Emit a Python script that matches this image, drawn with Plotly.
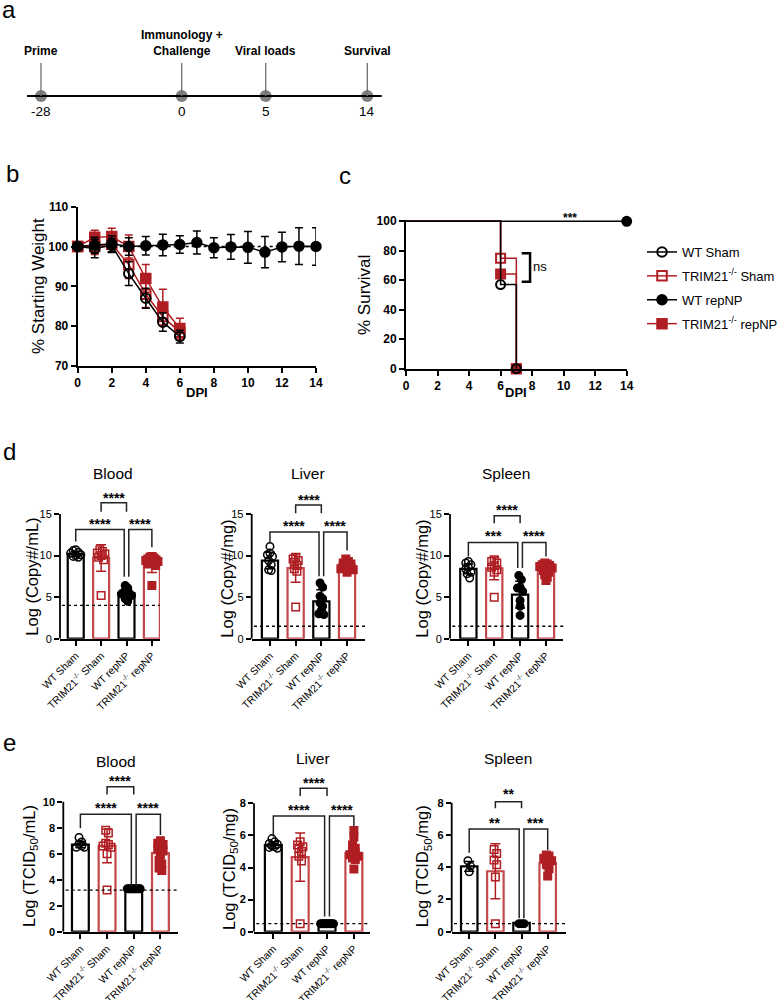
import plotly.graph_objects as go

W, H = 780, 1000
FONT = "Liberation Sans, Arial, Helvetica, sans-serif"
BLACK = "#000000"
RED = "#AF1E22"
RED_BAR = "#C4474A"
GREY = "#808080"

# ---------------- data ----------------
# panel a: study timeline
timeline_days = ["-28", "0", "5", "14"]
timeline_events = ["Prime", "Immunology +<br>Challenge", "Viral loads", "Survival"]

# groups
group_names = ["WT Sham", "TRIM21<sup>-/-</sup> Sham", "WT repNP", "TRIM21<sup>-/-</sup> repNP"]

# panel b: % starting weight (mean, SD) by day post infection
wt_sham_days = [0, 1, 2, 3, 4, 5, 6]
wt_sham_w = [100, 99.5, 100.3, 93.2, 87.0, 81.0, 77.4]
wt_sham_sd = [0, 2.3, 1.8, 3.0, 2.5, 2.3, 1.6]
trim_sham_days = [0, 1, 2, 3, 4, 5, 6]
trim_sham_w = [100, 100.0, 100.6, 95.5, 88.0, 82.4, 78.5]
trim_sham_sd = [0, 2.0, 2.0, 3.5, 3.3, 2.3, 2.0]
wt_rep_days = list(range(15))
wt_rep_w = [100, 100.3, 100.7, 100.0, 100.2, 100.4, 100.5, 101.0, 99.7, 99.9, 99.8, 98.6, 99.9, 100.1, 100.0]
wt_rep_sd = [0, 2.0, 2.0, 2.2, 2.3, 2.7, 2.2, 2.9, 2.5, 3.1, 4.0, 3.9, 3.7, 4.6, 4.7]
trim_rep_days = [0, 1, 2, 3, 4, 5, 6]
trim_rep_w = [100, 102.3, 102.5, 100.0, 92.0, 84.8, 79.4]
trim_rep_sd = [0, 1.8, 2.1, 2.9, 3.5, 4.5, 2.6]
weight_ref = 100

# panel c: Kaplan-Meier survival (%)
surv_wt_sham_t = [0, 6, 7]
surv_wt_sham = [100, 57.1, 0]
surv_trim_sham_t = [0, 6, 7]
surv_trim_sham = [100, 75.0, 0]
surv_wt_rep_t = [0, 14]
surv_wt_rep = [100, 100]
surv_trim_rep_t = [0, 6, 7]
surv_trim_rep = [100, 64.3, 0]
surv_sig_text = "***"
surv_ns_text = "ns"

# panel d: viral RNA, log copy number
d_blood_pts = [[10.7, 10.6, 10.4, 10.3, 10.1, 10.0, 9.9, 9.8],
               [10.7, 10.5, 10.3, 10.2, 10.0, 9.8, 9.5, 5.2],
               [6.4, 6.1, 5.8, 5.6, 5.5, 5.4, 5.2, 4.8, 4.5],
               [9.9, 9.8, 9.7, 9.6, 9.5, 9.4, 9.3, 9.2, 9.1, 9.0, 8.8, 6.4]]
d_blood_mean = [10.2, 9.7, 5.5, 9.1]
d_blood_err = [0.3, 1.6, 0.5, 1.15]
d_blood_lod = 4.0
d_blood_sig = [(1, 2, 16.36, 15.28, 15.28, "****", 17.3),
               (0, 2, 13.15, 11.7, 7.45, "****", 14.15),
               (2, 3, 13.15, 7.45, 11.0, "****", 14.15)]

d_liver_pts = [[11.1, 10.3, 10.1, 9.9, 9.4, 8.9, 8.3, 8.2],
               [9.8, 9.6, 9.4, 9.2, 8.8, 8.4, 8.1, 3.8],
               [6.7, 6.2, 5.1, 4.8, 4.3, 3.9, 3.4, 2.9, 3.0],
               [9.6, 9.3, 9.1, 9.0, 8.9, 8.8, 8.7, 8.6, 8.5, 8.4, 8.3, 8.0]]
d_liver_mean = [9.4, 8.5, 4.5, 8.7]
d_liver_err = [1.0, 1.7, 1.4, 0.4]
d_liver_lod = 1.5
d_liver_sig = [(1, 2, 16.08, 15.1, 15.1, "****", 17.1),
               (0, 2, 12.83, 11.47, 7.5, "****", 13.95),
               (2, 3, 12.83, 7.5, 10.6, "****", 13.95)]

d_spleen_pts = [[9.3, 9.1, 8.9, 8.6, 8.4, 8.0, 7.8, 7.3],
                [9.5, 9.3, 9.1, 8.8, 8.6, 8.3, 8.0, 5.0],
                [7.6, 7.1, 6.2, 6.1, 5.7, 4.6, 3.9, 2.8],
                [9.1, 9.0, 8.9, 8.8, 8.7, 8.5, 8.3, 8.2, 8.0, 7.7, 7.4, 7.0]]
d_spleen_mean = [8.4, 8.45, 5.3, 8.3]
d_spleen_err = [0.6, 1.35, 1.6, 0.6]
d_spleen_lod = 1.5
d_spleen_sig = [(1, 2, 14.8, 13.9, 13.9, "****", 15.9),
                (0, 2, 11.56, 9.9, 8.5, "***", 12.7),
                (2, 3, 11.56, 8.5, 9.9, "****", 12.7)]

# panel e: infectious virus, log TCID50
e_blood_pts = [[7.25, 6.9, 6.75, 6.6, 6.5, 6.5],
               [7.8, 7.6, 6.8, 6.7, 6.6, 6.5, 6.0, 3.2],
               [3.3, 3.3, 3.3, 3.3, 3.3, 3.3, 3.3, 3.3, 3.3, 3.3],
               [7.0, 6.8, 6.7, 6.6, 6.4, 6.2, 5.9, 5.5, 5.2, 4.9, 4.7]]
e_blood_mean = [6.7, 6.6, 3.3, 6.05]
e_blood_err = [0.25, 1.3, 0.0, 0.7]
e_blood_lod = 3.2
e_blood_sig = [(1, 2, 11.15, 10.56, 10.56, "****", 11.8),
               (0, 2, 9.03, 7.95, 3.5, "****", 9.74),
               (2, 3, 9.03, 3.5, 7.44, "****", 9.74)]

e_liver_pts = [[5.8, 5.6, 5.5, 5.45, 5.35, 5.3, 5.25, 5.2],
               [5.6, 5.4, 5.3, 5.2, 5.0, 4.7, 4.4, 0.5],
               [0.5, 0.5, 0.5, 0.5, 0.5, 0.5, 0.5, 0.5, 0.5, 0.5],
               [6.3, 5.9, 5.4, 5.2, 5.0, 4.9, 4.8, 4.7, 4.6, 4.5, 3.9]]
e_liver_mean = [5.4, 4.65, 0.5, 4.9]
e_liver_err = [0.2, 1.5, 0.0, 0.5]
e_liver_lod = 0.5
e_liver_sig = [(1, 2, 8.94, 8.46, 8.46, "****", 9.46),
               (0, 2, 7.21, 5.92, 0.94, "****", 7.75),
               (2, 3, 7.21, 0.94, 6.59, "****", 7.75)]

e_spleen_pts = [[4.4, 4.07, 3.72],
                [5.1, 4.85, 4.45, 4.15, 3.4, 0.5],
                [0.5, 0.5, 0.5],
                [4.75, 4.7, 4.55, 4.4, 4.2, 3.9, 3.45]]
e_spleen_mean = [4.05, 3.75, 0.55, 4.25]
e_spleen_err = [0.3, 1.7, 0.0, 0.35]
e_spleen_lod = 0.5
e_spleen_sig = [(1, 2, 8.06, 7.65, 7.65, "**", 8.7),
                (0, 2, 6.37, 4.9, 0.83, "**", 6.93),
                (2, 3, 6.37, 0.83, 5.07, "***", 6.93)]

# ---------------- styles / layout constants ----------------
G_COLORS = [BLACK, RED, BLACK, RED]
G_BARLINE = [BLACK, RED_BAR, BLACK, RED_BAR]
G_SYMBOLS = ["circle-open", "square-open", "circle", "square"]
TIMELINE_X = [41, 181.7, 265.7, 367.3]   # schematic positions (px)

fig = go.Figure()
shapes, annotations = [], []
L = dict(width=W, height=H, margin=dict(l=0, r=0, t=0, b=0, autoexpand=False),
         paper_bgcolor="white", plot_bgcolor="white",
         font=dict(family=FONT, color="black", size=12))


def dx(a, b):
    return [a / W, b / W]


def dy(top, bottom):
    return [1 - bottom / H, 1 - top / H]


def ann(text, x, y, size, xref="paper", yref="paper", **kw):
    d = dict(text=text, x=x, y=y, xref=xref, yref=yref, showarrow=False,
             xanchor="center", yanchor="middle",
             font=dict(size=size, family=kw.pop("family", FONT), color=kw.pop("color", "black"),
                       weight=kw.pop("weight", "normal")))
    d.update(kw)
    annotations.append(d)


def px_x(p):
    return p / W


def px_y(p):
    return 1 - p / H


# ---------------- panel a ----------------
L["xaxis"] = dict(domain=[0, 1], range=[0, W], visible=False, automargin=False)
L["yaxis"] = dict(domain=dy(0, 120), range=[120, 0], visible=False, automargin=False)
shapes.append(dict(type="line", xref="x", yref="y", x0=27, x1=381.7, y0=96, y1=96,
                   line=dict(color="black", width=2.2)))
for xp in TIMELINE_X:
    shapes.append(dict(type="line", xref="x", yref="y", x0=xp, x1=xp, y0=63, y1=96,
                       line=dict(color="#6E6E6E", width=1.3)))
fig.add_trace(go.Scatter(x=TIMELINE_X, y=[96] * len(TIMELINE_X), mode="markers",
                         marker=dict(size=12, color=GREY), showlegend=False,
                         hoverinfo="skip", xaxis="x", yaxis="y"))
for xp, ev, dd in zip(TIMELINE_X, timeline_events, timeline_days):
    ann(ev, xp, 60, 12, xref="x", yref="y", yanchor="bottom", weight="bold")
    ann(dd, xp, 111, 13.5, xref="x", yref="y")

# panel letters
ann("a", px_x(0), px_y(9), 24, xanchor="left")
ann("b", px_x(4), px_y(173), 24, xanchor="left")
ann("c", px_x(337), px_y(175), 24, xanchor="left")
ann("d", px_x(1), px_y(452), 24, xanchor="left")
ann("e", px_x(1), px_y(742), 24, xanchor="left")

AX = dict(showgrid=False, zeroline=False, showline=True, linecolor="black", linewidth=2,
          ticks="outside", ticklen=5, tickwidth=2, tickcolor="black", automargin=False)

# ---------------- panel b ----------------
L["xaxis2"] = dict(AX, domain=dx(77.7, 316), range=[0, 14], dtick=2, tick0=0, anchor="y2",
                   tickfont=dict(size=12, weight="bold"))
L["yaxis2"] = dict(AX, domain=dy(206.7, 366), range=[70, 110], dtick=10, anchor="x2",
                   tickfont=dict(size=12, weight="bold"))
shapes.append(dict(type="line", xref="x2", yref="y2", x0=0, x1=14, y0=weight_ref, y1=weight_ref,
                   line=dict(color="black", width=1.5, dash="dot"), layer="below"))

series_b = [
    (3, trim_rep_days, trim_rep_w, trim_rep_sd),
    (1, trim_sham_days, trim_sham_w, trim_sham_sd),
    (0, wt_sham_days, wt_sham_w, wt_sham_sd),
    (2, wt_rep_days, wt_rep_w, wt_rep_sd),
]
for gi, xs, ys, es in series_b:
    fig.add_trace(go.Scatter(
        x=xs, y=ys, mode="lines+markers", name=group_names[gi], legendrank=gi + 1,
        legendgroup=f"g{gi}",
        line=dict(color=G_COLORS[gi], width=1.5),
        marker=dict(symbol=G_SYMBOLS[gi], size=9.5, color=G_COLORS[gi],
                    line=dict(color=G_COLORS[gi], width=2)),
        error_y=dict(type="data", array=es, color=G_COLORS[gi], thickness=1.5, width=4),
        cliponaxis=False, xaxis="x2", yaxis="y2"))

ann("% Starting Weight", px_x(38), px_y(286), 17, textangle=-90)
ann("<b>DPI</b>", px_x(197), px_y(392), 13)

# ---------------- panel c ----------------
L["xaxis3"] = dict(AX, domain=dx(406, 626.7), range=[0, 14], dtick=2, tick0=0, anchor="y3",
                   tickfont=dict(size=12, weight="bold"))
L["yaxis3"] = dict(AX, domain=dy(219.8, 368.7), range=[0, 101], tickvals=[0, 20, 40, 60, 80, 100],
                   anchor="x3", tickfont=dict(size=12, weight="bold"))
series_c = [
    (3, surv_trim_rep_t, surv_trim_rep),
    (1, surv_trim_sham_t, surv_trim_sham),
    (0, surv_wt_sham_t, surv_wt_sham),
    (2, surv_wt_rep_t, surv_wt_rep),
]
for gi, ts, ss in series_c:
    fig.add_trace(go.Scatter(x=ts, y=ss, mode="lines", line=dict(color=G_COLORS[gi], width=1.5, shape="hv"),
                             showlegend=False, hoverinfo="skip", xaxis="x3", yaxis="y3"))
    fig.add_trace(go.Scatter(x=ts[1:], y=ss[1:], mode="markers",
                             marker=dict(symbol=G_SYMBOLS[gi], size=9, color=G_COLORS[gi],
                                         line=dict(color=G_COLORS[gi], width=2)),
                             showlegend=False, cliponaxis=False, xaxis="x3", yaxis="y3"))
# ns bracket between sham survival curves
shapes.append(dict(type="path", xref="x3", yref="y3",
                   path=f"M 7.34,{surv_trim_sham[1] + 3.3} L 7.87,{surv_trim_sham[1] + 3.3} "
                        f"L 7.87,{surv_wt_sham[1] + 1.9} L 7.34,{surv_wt_sham[1] + 1.9}",
                   line=dict(color="black", width=2.5)))
ann(surv_ns_text, 8.5, 69, 13, xref="x3", yref="y3")
ann(surv_sig_text, 10.4, surv_wt_rep[0], 12, xref="x3", yref="y3", weight="bold", yshift=3)
ann("% Survival", px_x(365), px_y(295), 17, textangle=-90)
ann("<b>DPI</b>", px_x(516), px_y(392), 13)

L["legend"] = dict(x=642 / W, y=px_y(237), xanchor="left", yanchor="top",
                   font=dict(size=13, family=FONT), tracegroupgap=4, bgcolor="rgba(0,0,0,0)",
                   itemwidth=30)


# ---------------- bar panels ----------------
def swarm_offsets(vals, tol, maxw=0.24, step=0.1):
    order = sorted(range(len(vals)), key=lambda k: -vals[k])
    offs = [0.0] * len(vals)
    i = 0
    while i < len(order):
        j = i
        while j + 1 < len(order) and vals[order[i]] - vals[order[j + 1]] <= tol:
            j += 1
        grp = order[i:j + 1]
        k = len(grp)
        w = min(maxw, step * (k - 1) / 2)
        slots = [(-w + 2 * w * s / (k - 1)) if k > 1 else 0.0 for s in range(k)]
        mid = (k - 1) / 2
        slot_order = sorted(range(k), key=lambda s: (abs(s - mid), s))
        for idx, s in zip(grp, slot_order):
            offs[idx] = slots[s]
        i = j + 1
    return offs


def bar_panel(n, pts, means, errs, lod, sig, xpx, xr, y0px, ppu, ytop, ticks, axis_top,
              title, title_xy, ytitle, ytitle_xy, tol, bold_ticks):
    xa, ya = f"x{n}", f"y{n}"
    L[f"xaxis{n}"] = dict(AX, domain=dx(*xpx), range=list(xr), anchor=ya, linewidth=1.8,
                          tickvals=[0, 1, 2, 3], ticktext=group_names, tickangle=-45,
                          tickfont=dict(size=10.5))
    L[f"yaxis{n}"] = dict(AX, domain=dy(y0px - ppu * ytop, y0px), range=[0, ytop], anchor=xa,
                          showline=False, tickvals=ticks, linewidth=1.8,
                          tickfont=dict(size=11, weight="bold" if bold_ticks else "normal"))
    shapes.append(dict(type="line", xref=f"{xa} domain", yref=ya, x0=0, x1=0, y0=0, y1=axis_top,
                       line=dict(color="black", width=1.8)))
    for gi in range(4):
        fig.add_trace(go.Bar(x=[gi], y=[means[gi]], width=0.63, showlegend=False, hoverinfo="skip",
                             marker=dict(color="white", line=dict(color=G_BARLINE[gi], width=2.2)),
                             xaxis=xa, yaxis=ya))
    shapes.append(dict(type="line", xref=f"{xa} domain", yref=ya, x0=0.02, x1=1.0, y0=lod, y1=lod,
                       line=dict(color="black", width=1.3, dash="dot")))
    for gi in range(4):
        offs = swarm_offsets(pts[gi], tol)
        fig.add_trace(go.Scatter(
            x=[gi + o for o in offs], y=pts[gi], mode="markers", showlegend=False,
            marker=dict(symbol=G_SYMBOLS[gi], size=7.5, color=G_COLORS[gi],
                        line=dict(color=G_COLORS[gi], width=1.5)),
            cliponaxis=False, xaxis=xa, yaxis=ya))
    for gi in range(4):
        if errs[gi] > 0:
            fig.add_trace(go.Scatter(
                x=[gi], y=[means[gi]], mode="markers", marker=dict(size=1, opacity=0),
                showlegend=False, hoverinfo="skip",
                error_y=dict(type="data", array=[errs[gi]], color=G_COLORS[gi], thickness=1.5, width=5),
                xaxis=xa, yaxis=ya))
    for (i, j, yb, yl, yr, lab, yt) in sig:
        xl = i + (0.09 if i == 2 else 0)
        xr_ = j - (0.09 if (i == 0 and j == 2) else 0)
        shapes.append(dict(type="path", xref=xa, yref=ya,
                           path=f"M {xl},{yl} L {xl},{yb} L {xr_},{yb} L {xr_},{yr}",
                           line=dict(color="#222222", width=1.5)))
        ann(lab, (xl + xr_) / 2, yt, 14, xref=xa, yref=ya, weight="bold", yshift=-3)
    ann(title, px_x(title_xy[0]), px_y(title_xy[1]), 15.5)
    ann(ytitle, px_x(ytitle_xy[0]), px_y(ytitle_xy[1]), 16.5, textangle=-90)


bar_panel(4, d_blood_pts, d_blood_mean, d_blood_err, d_blood_lod, d_blood_sig,
          (60, 160), (-0.62, 3.32), 638.7, 8.313, 18.2, [0, 5, 10, 15], 15,
          "Blood", (113, 473), "Log (Copy#/mL)", (31.7, 577), 0.6, False)
bar_panel(5, d_liver_pts, d_liver_mean, d_liver_err, d_liver_lod, d_liver_sig,
          (251.7, 365.3), (-0.71, 3.71), 638.7, 8.313, 18.0, [0, 5, 10, 15], 15,
          "Liver", (308, 473), "Log (Copy#/mg)", (226.7, 579), 0.6, False)
bar_panel(6, d_spleen_pts, d_spleen_mean, d_spleen_err, d_spleen_lod, d_spleen_sig,
          (450, 563.3), (-0.71, 3.67), 638.7, 8.313, 17.0, [0, 5, 10, 15], 15,
          "Spleen", (506, 473), "Log (Copy#/mg)", (421.7, 579), 0.6, False)
bar_panel(7, e_blood_pts, e_blood_mean, e_blood_err, e_blood_lod, e_blood_sig,
          (63.3, 178.3), (-0.64, 3.67), 931.7, 13.0, 12.3, [0, 2, 4, 6, 8, 10], 10,
          "Blood", (116, 761.7), "Log (TCID<sub>50</sub>/mL)", (30, 866), 0.4, True)
bar_panel(8, e_liver_pts, e_liver_mean, e_liver_err, e_liver_lod, e_liver_sig,
          (254, 370), (-0.72, 3.6), 931.7, 16.05, 9.9, [0, 2, 4, 6, 8], 8,
          "Liver", (313, 758.3), "Log (TCID<sub>50</sub>/mg)", (230, 869), 0.35, True)
bar_panel(9, e_spleen_pts, e_spleen_mean, e_spleen_err, e_spleen_lod, e_spleen_sig,
          (451.7, 566), (-0.67, 3.7), 931.7, 16.125, 9.2, [0, 2, 4, 6, 8], 8,
          "Spleen", (508, 758), "Log (TCID<sub>50</sub>/mg)", (423.3, 866), 0.35, True)

L["shapes"] = shapes
L["annotations"] = annotations
L["barmode"] = "overlay"
fig.update_layout(**L)
fig.write_html("out.html", config={"displayModeBar": False},
               post_script="document.body.style.margin='0px';document.body.style.overflow='hidden';")
